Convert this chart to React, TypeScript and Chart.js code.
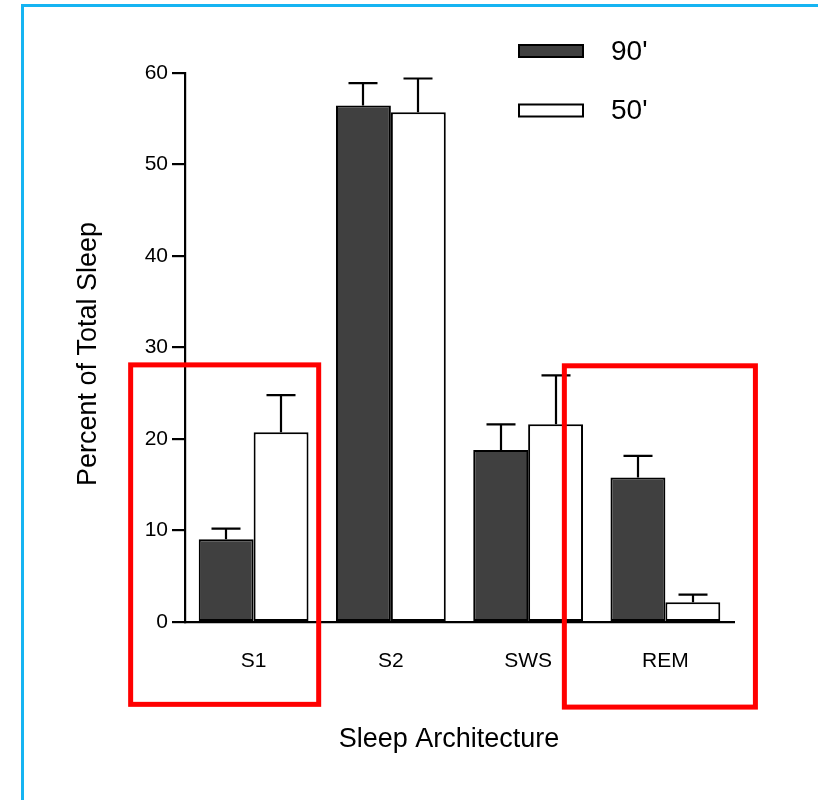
import React, { useEffect, useRef } from "react";
import { Chart, registerables } from "chart.js";

Chart.register(...registerables);

const categories = ["S1", "S2", "SWS", "REM"];
const seriesLabels = ["90'", "50'"];
const values90 = [9.05, 56.45, 18.8, 15.8];
const errors90 = [1.15, 2.45, 2.8, 2.35];
const values50 = [20.75, 55.7, 21.6, 2.15];
const errors50 = [4.05, 3.7, 5.35, 0.85];
const yTickMin = 0;
const yTickMax = 60;
const yTickStep = 10;
const xTitle = "Sleep Architecture";
const yTitle = "Percent of Total Sleep";

// highlight frames (category index offsets and value range)
const highlightCategories = [0, 3];
const highlightLeft = [-0.896, -0.736];
const highlightRight = [0.474, 0.656];
const highlightTop = [28.1, 28.0];
const highlightBottom = [-9.0, -9.3];

const FONT = "'Liberation Sans', Arial, Helvetica, sans-serif";

export default function App() {
  const ref = useRef<HTMLCanvasElement | null>(null);

  useEffect(() => {
    document.body.style.margin = "0";
    const canvas = ref.current;
    if (!canvas) return;

    const errs = [errors90, errors50];

    const decorPlugin = {
      id: "decor",
      beforeDraw(chart: any) {
        const ctx = chart.ctx;
        ctx.save();
        ctx.fillStyle = "#ffffff";
        ctx.fillRect(0, 0, chart.width, chart.height);
        ctx.strokeStyle = "#16b4f2";
        ctx.lineWidth = 3;
        ctx.beginPath();
        ctx.moveTo(22.5, chart.height);
        ctx.lineTo(22.5, 5.5);
        ctx.lineTo(chart.width, 5.5);
        ctx.stroke();
        ctx.restore();
      },
      afterDatasetsDraw(chart: any) {
        const ctx = chart.ctx;
        const y = chart.scales.y;
        ctx.save();
        ctx.strokeStyle = "#000";
        ctx.lineWidth = 2.2;
        chart.data.datasets.forEach((ds: any, di: number) => {
          const meta = chart.getDatasetMeta(di);
          meta.data.forEach((el: any, i: number) => {
            const v = ds.data[i];
            const top = y.getPixelForValue(v + errs[di][i]);
            const x = Math.round(el.x);
            ctx.beginPath();
            ctx.moveTo(x, el.y);
            ctx.lineTo(x, top);
            ctx.moveTo(x - 14.5, top);
            ctx.lineTo(x + 14.5, top);
            ctx.stroke();
          });
        });
        ctx.restore();
      },
      afterDraw(chart: any) {
        const ctx = chart.ctx;
        const xs = chart.scales.x;
        const ys = chart.scales.y;
        ctx.save();
        // titles
        ctx.fillStyle = "#000";
        ctx.font = `27px ${FONT}`;
        ctx.textAlign = "center";
        ctx.textBaseline = "middle";
        ctx.fillText(xTitle, 449, 740);
        ctx.save();
        ctx.translate(89, 354);
        ctx.rotate(-Math.PI / 2);
        ctx.fillText(yTitle, 0, 0);
        ctx.restore();

        // legend
        const legendY = [51, 110.5];
        chart.data.datasets.forEach((ds: any, di: number) => {
          ctx.fillStyle = ds.backgroundColor;
          ctx.strokeStyle = "#000";
          ctx.lineWidth = 2;
          ctx.fillRect(519, legendY[di] - 6, 64, 12);
          ctx.strokeRect(519, legendY[di] - 6, 64, 12);
          ctx.fillStyle = "#000";
          ctx.font = `28px ${FONT}`;
          ctx.textAlign = "left";
          ctx.textBaseline = "middle";
          ctx.fillText(ds.label, 611, legendY[di] + 1);
        });

        // highlight frames
        ctx.strokeStyle = "#ff0000";
        ctx.lineWidth = 5;
        highlightCategories.forEach((c, k) => {
          const l = xs.getPixelForValue(c + highlightLeft[k]);
          const r = xs.getPixelForValue(c + highlightRight[k]);
          const t = ys.getPixelForValue(highlightTop[k]);
          const b = ys.getPixelForValue(highlightBottom[k]);
          ctx.strokeRect(l, t, r - l, b - t);
        });
        ctx.restore();
      },
    };

    const chart = new Chart(canvas, {
      type: "bar",
      data: {
        labels: categories,
        datasets: [
          {
            label: seriesLabels[0],
            data: values90,
            backgroundColor: "#404040",
            borderColor: "#000",
            borderWidth: 2,
            borderSkipped: false,
            barPercentage: 1.0,
            categoryPercentage: 0.8,
          },
          {
            label: seriesLabels[1],
            data: values50,
            backgroundColor: "#ffffff",
            borderColor: "#000",
            borderWidth: 2,
            borderSkipped: false,
            barPercentage: 1.0,
            categoryPercentage: 0.8,
          },
        ],
      },
      options: {
        responsive: false,
        animation: false,
        events: [],
        layout: { padding: { left: 0, top: 73, right: 84, bottom: 0 } },
        plugins: {
          legend: { display: false },
          tooltip: { enabled: false },
          title: { display: false },
        },
        scales: {
          x: {
            grid: { display: false, drawTicks: false },
            border: { display: true, color: "#000", width: 2.2 },
            ticks: {
              color: "#000",
              font: { family: FONT, size: 21 },
              padding: 27,
            },
            afterFit(scale: any) {
              scale.height = 800 - 622;
            },
          },
          y: {
            min: yTickMin,
            max: yTickMax,
            grid: {
              display: true,
              drawOnChartArea: false,
              drawTicks: true,
              tickLength: 13,
              color: "#000",
              lineWidth: 2.2,
            },
            border: { display: true, color: "#000", width: 2.2 },
            ticks: {
              stepSize: yTickStep,
              color: "#000",
              font: { family: FONT, size: 21 },
              padding: 4,
            },
            afterFit(scale: any) {
              scale.width = 185;
            },
          },
        },
      },
      plugins: [decorPlugin],
    });

    return () => chart.destroy();
  }, []);

  return (
    <div style={{ width: 818, height: 800 }}>
      <canvas ref={ref} width={818} height={800} />
    </div>
  );
}
